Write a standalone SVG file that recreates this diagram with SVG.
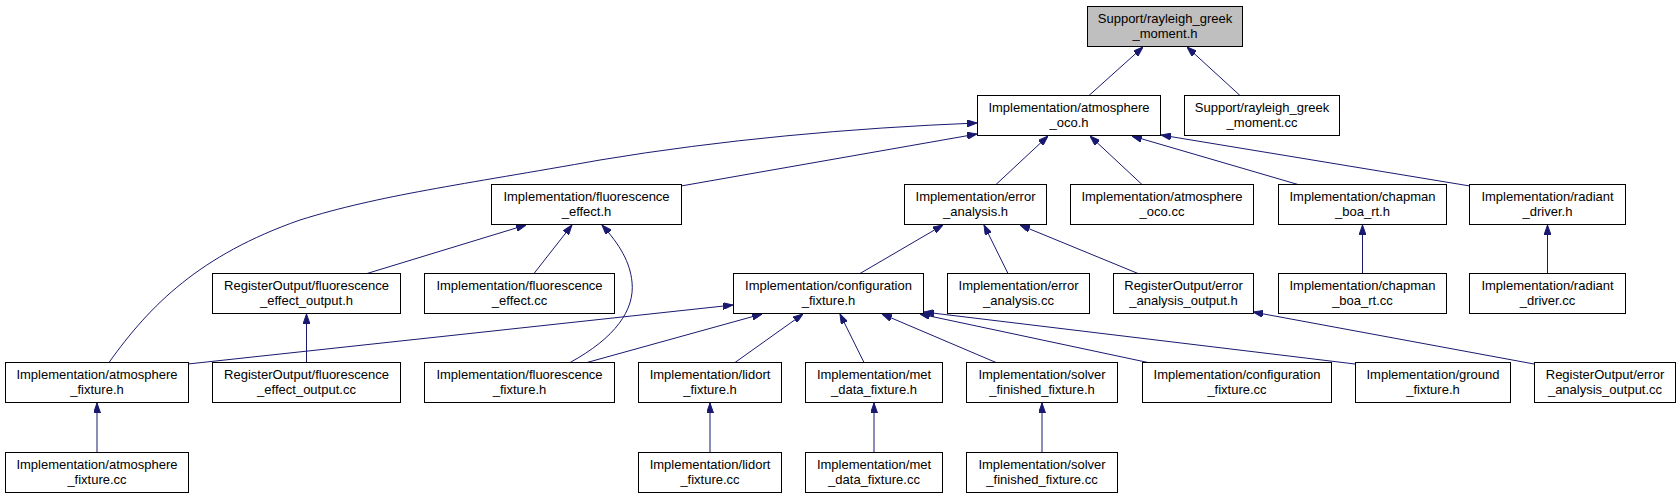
<svg xmlns="http://www.w3.org/2000/svg" width="1680" height="499" viewBox="0 0 1680 499">
<defs>
<marker id="arr" viewBox="0 0 10 7" refX="10" refY="3.5" markerWidth="10" markerHeight="7" markerUnits="userSpaceOnUse" orient="auto">
<path d="M0,0 L10,3.5 L0,7 z" fill="#191970" stroke="#191970" stroke-width="1"/>
</marker>
<style>
.n rect{fill:#ffffff;stroke:#000000;stroke-width:1}
.n.root rect{fill:#bfbfbf}
.n text{font-family:"Liberation Sans",Arial,Helvetica,sans-serif;font-size:13px;text-anchor:middle;fill:#000000}
.e path{fill:none;stroke:#191970;stroke-width:1;marker-end:url(#arr)}
</style>
</defs>
<rect width="1680" height="499" fill="#ffffff"/>
<g class="e" id="connectors">
<path d="M1089,95.5 L1143,47"/>
<path d="M1240,95.5 L1187,47"/>
<path d="M109,362.5 C150,305 200,255 300,220 C380,195 460,185 600,160 C720,140 850,128 977,123"/>
<path d="M681,186 L977,134"/>
<path d="M996,184.5 L1048,136"/>
<path d="M1142,184.5 L1090,136"/>
<path d="M1298,184.5 L1132,136"/>
<path d="M1470,186 L1161,135"/>
<path d="M367,273.5 L526,225"/>
<path d="M534,273.5 L572,225"/>
<path d="M570,362.5 C615,338 635,310 632,282 C630,262 620,245 602,225"/>
<path d="M306.5,362.5 L306.5,314"/>
<path d="M860,273.5 L943,225"/>
<path d="M1008,273.5 L984,225"/>
<path d="M1138,273.5 L1020,225"/>
<path d="M1362.5,273.5 L1362.5,225"/>
<path d="M1547.5,273.5 L1547.5,225"/>
<path d="M188,364 L733,305"/>
<path d="M587,362.5 L762,314"/>
<path d="M735,362.5 L803,314"/>
<path d="M864,362.5 L840,314"/>
<path d="M996,362.5 L882,314"/>
<path d="M1148,362.5 L920,314"/>
<path d="M1355,364 L924,312"/>
<path d="M1534,364 L1253,312"/>
<path d="M97,452.5 L97,403"/>
<path d="M710,452.5 L710,403"/>
<path d="M874,452.5 L874,403"/>
<path d="M1042,452.5 L1042,403"/>
</g>
<g class="n root" id="rayleigh_greek_moment_h"><rect x="1087.5" y="6.5" width="155" height="40"/><text x="1165" y="22.5">Support/rayleigh_greek</text><text x="1165" y="37.5">_moment.h</text></g>
<g class="n" id="atmosphere_oco_h"><rect x="977.5" y="95.5" width="183" height="40"/><text x="1069" y="111.5">Implementation/atmosphere</text><text x="1069" y="126.5">_oco.h</text></g>
<g class="n" id="rayleigh_greek_moment_cc"><rect x="1184.5" y="95.5" width="155" height="40"/><text x="1262" y="111.5">Support/rayleigh_greek</text><text x="1262" y="126.5">_moment.cc</text></g>
<g class="n" id="fluorescence_effect_h"><rect x="491.5" y="184.5" width="190" height="40"/><text x="586.5" y="200.5">Implementation/fluorescence</text><text x="586.5" y="215.5">_effect.h</text></g>
<g class="n" id="error_analysis_h"><rect x="904.5" y="184.5" width="142" height="40"/><text x="975.5" y="200.5">Implementation/error</text><text x="975.5" y="215.5">_analysis.h</text></g>
<g class="n" id="atmosphere_oco_cc"><rect x="1070.5" y="184.5" width="183" height="40"/><text x="1162" y="200.5">Implementation/atmosphere</text><text x="1162" y="215.5">_oco.cc</text></g>
<g class="n" id="chapman_boa_rt_h"><rect x="1278.5" y="184.5" width="168" height="40"/><text x="1362.5" y="200.5">Implementation/chapman</text><text x="1362.5" y="215.5">_boa_rt.h</text></g>
<g class="n" id="radiant_driver_h"><rect x="1469.5" y="184.5" width="156" height="40"/><text x="1547.5" y="200.5">Implementation/radiant</text><text x="1547.5" y="215.5">_driver.h</text></g>
<g class="n" id="fluorescence_effect_output_h"><rect x="212.5" y="273.5" width="188" height="40"/><text x="306.5" y="289.5">RegisterOutput/fluorescence</text><text x="306.5" y="304.5">_effect_output.h</text></g>
<g class="n" id="fluorescence_effect_cc"><rect x="424.5" y="273.5" width="190" height="40"/><text x="519.5" y="289.5">Implementation/fluorescence</text><text x="519.5" y="304.5">_effect.cc</text></g>
<g class="n" id="configuration_fixture_h"><rect x="733.5" y="273.5" width="190" height="40"/><text x="828.5" y="289.5">Implementation/configuration</text><text x="828.5" y="304.5">_fixture.h</text></g>
<g class="n" id="error_analysis_cc"><rect x="947.5" y="273.5" width="142" height="40"/><text x="1018.5" y="289.5">Implementation/error</text><text x="1018.5" y="304.5">_analysis.cc</text></g>
<g class="n" id="error_analysis_output_h"><rect x="1113.5" y="273.5" width="140" height="40"/><text x="1183.5" y="289.5">RegisterOutput/error</text><text x="1183.5" y="304.5">_analysis_output.h</text></g>
<g class="n" id="chapman_boa_rt_cc"><rect x="1278.5" y="273.5" width="168" height="40"/><text x="1362.5" y="289.5">Implementation/chapman</text><text x="1362.5" y="304.5">_boa_rt.cc</text></g>
<g class="n" id="radiant_driver_cc"><rect x="1469.5" y="273.5" width="156" height="40"/><text x="1547.5" y="289.5">Implementation/radiant</text><text x="1547.5" y="304.5">_driver.cc</text></g>
<g class="n" id="atmosphere_fixture_h"><rect x="5.5" y="362.5" width="183" height="40"/><text x="97" y="378.5">Implementation/atmosphere</text><text x="97" y="393.5">_fixture.h</text></g>
<g class="n" id="fluorescence_effect_output_cc"><rect x="212.5" y="362.5" width="188" height="40"/><text x="306.5" y="378.5">RegisterOutput/fluorescence</text><text x="306.5" y="393.5">_effect_output.cc</text></g>
<g class="n" id="fluorescence_fixture_h"><rect x="424.5" y="362.5" width="190" height="40"/><text x="519.5" y="378.5">Implementation/fluorescence</text><text x="519.5" y="393.5">_fixture.h</text></g>
<g class="n" id="lidort_fixture_h"><rect x="638.5" y="362.5" width="143" height="40"/><text x="710" y="378.5">Implementation/lidort</text><text x="710" y="393.5">_fixture.h</text></g>
<g class="n" id="met_data_fixture_h"><rect x="805.5" y="362.5" width="137" height="40"/><text x="874" y="378.5">Implementation/met</text><text x="874" y="393.5">_data_fixture.h</text></g>
<g class="n" id="solver_finished_fixture_h"><rect x="966.5" y="362.5" width="151" height="40"/><text x="1042" y="378.5">Implementation/solver</text><text x="1042" y="393.5">_finished_fixture.h</text></g>
<g class="n" id="configuration_fixture_cc"><rect x="1142.5" y="362.5" width="189" height="40"/><text x="1237" y="378.5">Implementation/configuration</text><text x="1237" y="393.5">_fixture.cc</text></g>
<g class="n" id="ground_fixture_h"><rect x="1355.5" y="362.5" width="155" height="40"/><text x="1433" y="378.5">Implementation/ground</text><text x="1433" y="393.5">_fixture.h</text></g>
<g class="n" id="error_analysis_output_cc"><rect x="1534.5" y="362.5" width="141" height="40"/><text x="1605" y="378.5">RegisterOutput/error</text><text x="1605" y="393.5">_analysis_output.cc</text></g>
<g class="n" id="atmosphere_fixture_cc"><rect x="5.5" y="452.5" width="183" height="40"/><text x="97" y="468.5">Implementation/atmosphere</text><text x="97" y="483.5">_fixture.cc</text></g>
<g class="n" id="lidort_fixture_cc"><rect x="638.5" y="452.5" width="143" height="40"/><text x="710" y="468.5">Implementation/lidort</text><text x="710" y="483.5">_fixture.cc</text></g>
<g class="n" id="met_data_fixture_cc"><rect x="805.5" y="452.5" width="137" height="40"/><text x="874" y="468.5">Implementation/met</text><text x="874" y="483.5">_data_fixture.cc</text></g>
<g class="n" id="solver_finished_fixture_cc"><rect x="966.5" y="452.5" width="151" height="40"/><text x="1042" y="468.5">Implementation/solver</text><text x="1042" y="483.5">_finished_fixture.cc</text></g>
</svg>
